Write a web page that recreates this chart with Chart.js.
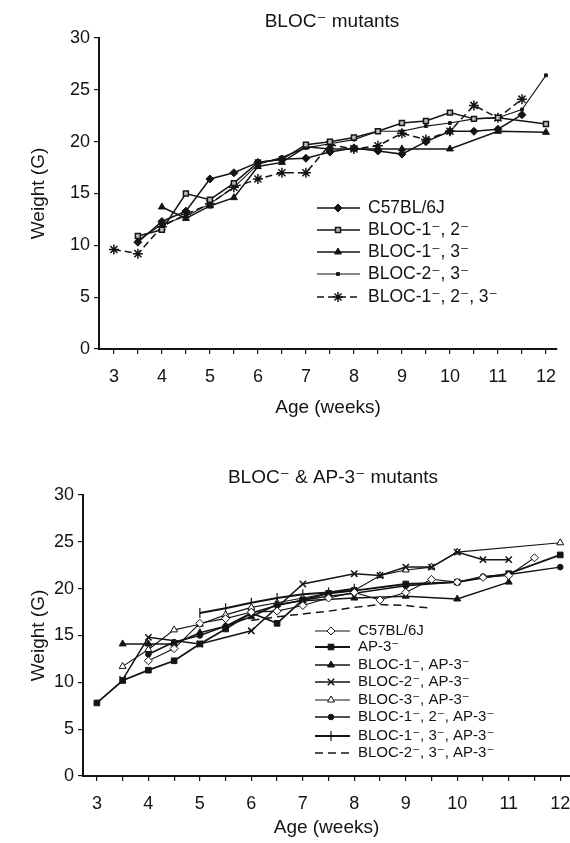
<!DOCTYPE html>
<html><head><meta charset="utf-8">
<script src="https://cdn.jsdelivr.net/npm/chart.js@4.4.1/dist/chart.umd.min.js"></script>
<style>
html,body{margin:0;padding:0;background:#fff;}
#wrap{position:relative;width:570px;height:843px;overflow:hidden;background:#fff;}
canvas{position:absolute;left:0;}
#c1{top:0}
#c2{top:420px}
</style></head><body>
<div id="wrap"><canvas id="c1" width="570" height="420"></canvas><canvas id="c2" width="570" height="423"></canvas></div>
<script>
// ---------- text ----------
const topTitle = 'BLOC\u207B mutants';
const botTitle = 'BLOC\u207B & AP-3\u207B mutants';
const yTitle = 'Weight (G)';
const xTitle = 'Age (weeks)';
const xTickValues = [3,3.5,4,4.5,5,5.5,6,6.5,7,7.5,8,8.5,9,9.5,10,10.5,11,11.5,12];
const yTickValues = [0,5,10,15,20,25,30];

// ---------- top panel (BLOC- mutants) ----------
const topLabels = ['C57BL/6J','BLOC-1\u207B, 2\u207B','BLOC-1\u207B, 3\u207B','BLOC-2\u207B, 3\u207B','BLOC-1\u207B, 2\u207B, 3\u207B'];
const tC57Weeks = [3.5,4,4.5,5,5.5,6,6.5,7,7.5,8,8.5,9,9.5,10,10.5,11,11.5];
const tC57Vals  = [10.3,12.3,13.3,16.4,17.0,18.0,18.3,18.4,19.0,19.4,19.1,18.8,20.0,21.0,21.0,21.2,22.6];
const tB12Weeks = [3.5,4,4.5,5,5.5,6,6.5,7,7.5,8,8.5,9,9.5,10,10.5,11,12];
const tB12Vals  = [10.9,11.5,15.0,14.4,16.0,18.0,18.3,19.7,20.0,20.4,21.0,21.8,22.0,22.8,22.2,22.3,21.7];
const tB13Weeks = [4,4.5,5,5.5,6,6.5,7,7.5,8,8.5,9,10,11,12];
const tB13Vals  = [13.7,12.6,13.8,14.6,17.6,18.0,19.5,19.3,19.3,19.3,19.3,19.3,21.0,20.9];
const tB23Weeks = [3.5,4,4.5,5,5.5,6,6.5,7,7.5,8,8.5,9,9.5,10,10.5,11,11.5,12];
const tB23Vals  = [10.5,12.0,12.8,14.0,15.6,17.8,18.5,19.4,19.8,20.2,21.0,21.0,21.5,21.8,22.2,22.3,23.1,26.4];
const tB123Weeks = [3,3.5,4,4.5,5,5.5,6,6.5,7,7.5,8,8.5,9,9.5,10,10.5,11,11.5];
const tB123Vals  = [9.6,9.2,11.8,13.0,14.0,15.6,16.4,17.0,17.0,19.7,19.3,19.6,20.8,20.2,21.0,23.5,22.3,24.1];

// ---------- bottom panel (BLOC- & AP-3- mutants) ----------
const botLabels = ['C57BL/6J','AP-3\u207B','BLOC-1\u207B, AP-3\u207B','BLOC-2\u207B, AP-3\u207B','BLOC-3\u207B, AP-3\u207B','BLOC-1\u207B, 2\u207B, AP-3\u207B','BLOC-1\u207B, 3\u207B, AP-3\u207B','BLOC-2\u207B, 3\u207B, AP-3\u207B'];
const bC57Weeks = [4,4.5,5,5.5,6,6.5,7,7.5,8,8.5,9,9.5,10,10.5,11,11.5];
const bC57Vals  = [12.3,13.6,16.3,16.8,17.5,17.6,18.2,19.0,19.6,18.8,19.6,21.0,20.7,21.2,21.4,23.3];
const bAP3Weeks = [3,3.5,4,4.5,5,5.5,6,6.5,7,7.5,8,9,10,11,12];
const bAP3Vals  = [7.8,10.2,11.3,12.3,14.1,15.7,17.4,16.3,18.8,19.5,19.8,20.5,20.7,21.6,23.6];
const bB1Weeks = [3.5,4,4.5,5,5.5,6,6.5,7,8,9,10,11];
const bB1Vals  = [14.1,14.1,14.1,15.3,16.0,17.0,18.3,18.7,19.0,19.2,18.9,20.7];
const bB2Weeks = [3.5,4,5,6,7,8,8.5,9,9.5,10,10.5,11];
const bB2Vals  = [10.3,14.8,14.1,15.5,20.5,21.6,21.4,22.3,22.3,23.9,23.1,23.1];
const bB3Weeks = [3.5,4,4.5,5,5.5,6,6.5,7,7.5,8,8.5,9,9.5,10,12];
const bB3Vals  = [11.7,13.5,15.6,16.2,17.2,18.0,18.5,19.0,19.5,19.8,21.4,22.0,22.3,23.9,24.9];
const bB12Weeks = [4,4.5,5,5.5,6,6.5,7,7.5,8,9,10,10.5,11,12];
const bB12Vals  = [13.0,14.3,15.0,16.0,17.4,18.2,18.8,19.2,19.5,20.3,20.7,21.3,21.5,22.3];
const bB13Weeks = [5,5.5,6,6.5,7,7.5,8];
const bB13Vals  = [17.4,17.9,18.5,19.0,19.4,19.6,20.0];
const bB23Weeks = [6,6.5,7,7.5,8,8.5,9,9.5];
const bB23Vals  = [16.6,17.0,17.3,17.6,18.0,18.3,18.2,17.9];

// ---------- helpers ----------
const FONT = "'Liberation Sans', Arial, 'DejaVu Sans', sans-serif";
const INK = '#141414';
const pts = (w, v) => w.map((x, i) => ({x: x, y: v[i]}));

function ds(label, data, o) {
  return Object.assign({
    label: label, data: data, borderColor: INK, borderWidth: 1.5, borderDash: [],
    pointStyle: 'circle', pointRadius: 3, pointBorderColor: INK, pointBackgroundColor: INK,
    pointBorderWidth: 1, pointRotation: 0, tension: 0, fill: false, showLine: true
  }, o);
}

const textPlugin = {
  id: 'panelText',
  afterDraw(chart, args, opts) {
    const ctx = chart.ctx;
    ctx.save();
    ctx.fillStyle = INK;
    ctx.textAlign = 'center';
    ctx.textBaseline = 'middle';
    ctx.font = opts.font;
    ctx.fillText(opts.text, opts.x, opts.y);
    ctx.restore();
  }
};

const legendPlugin = {
  id: 'inlineLegend',
  afterDraw(chart, args, opts) {
    const ctx = chart.ctx;
    chart.data.datasets.forEach((d, i) => {
      const y = opts.rows[i];
      ctx.save();
      ctx.strokeStyle = d.borderColor;
      ctx.lineWidth = d.borderWidth;
      ctx.setLineDash(d.borderDash || []);
      ctx.beginPath(); ctx.moveTo(opts.x0, y); ctx.lineTo(opts.x1, y); ctx.stroke();
      ctx.setLineDash([]);
      if (d.pointRadius > 0) {
        ctx.fillStyle = d.pointBackgroundColor;
        ctx.strokeStyle = d.pointBorderColor;
        ctx.lineWidth = d.pointBorderWidth;
        Chart.helpers.drawPoint(ctx, {pointStyle: d.pointStyle, radius: d.pointRadius, rotation: d.pointRotation, borderWidth: d.pointBorderWidth}, opts.xm, y);
      }
      ctx.fillStyle = INK;
      ctx.font = opts.font;
      ctx.textAlign = 'left';
      ctx.textBaseline = 'middle';
      ctx.fillText(d.label, opts.tx, y);
      ctx.restore();
    });
  }
};

function makeChart(id, datasets, L) {
  return new Chart(document.getElementById(id), {
    type: 'line',
    data: {datasets: datasets},
    plugins: [textPlugin, legendPlugin],
    options: {
      responsive: false, animation: false, devicePixelRatio: 1,
      layout: {autoPadding: false, padding: {top: L.top, right: L.right, left: 0, bottom: 0}},
      plugins: {
        legend: {display: false}, tooltip: {enabled: false},
        panelText: {text: L.title, x: L.titleX, y: L.titleY, font: L.titleFont},
        inlineLegend: L.legend
      },
      scales: {
        x: {
          type: 'linear', min: L.xmin, max: L.xmax,
          afterBuildTicks: s => { s.ticks = xTickValues.map(v => ({value: v})); },
          afterFit: s => { s.height = L.xh; s.paddingLeft = 0; s.paddingRight = 0; },
          ticks: {autoSkip: false, maxRotation: 0, padding: L.xpad, color: INK,
                  font: {family: FONT, size: L.tickSize},
                  callback: v => Number.isInteger(v) ? String(v) : ''},
          grid: {display: true, drawOnChartArea: false, drawTicks: true, tickLength: 5, color: INK, lineWidth: 1.2},
          border: {display: true, color: INK, width: 2},
          title: {display: true, text: xTitle, color: INK, font: {family: FONT, size: L.axisSize},
                  padding: {top: 0, bottom: L.xtpad}}
        },
        y: {
          min: 0, max: 30,
          afterBuildTicks: s => { s.ticks = yTickValues.map(v => ({value: v})); },
          afterFit: s => { s.width = L.yw; s.paddingTop = 0; s.paddingBottom = 0; },
          ticks: {padding: 4, color: INK, font: {family: FONT, size: L.tickSize}},
          grid: {display: true, drawOnChartArea: false, drawTicks: true, tickLength: 5, color: INK, lineWidth: 1.2},
          border: {display: true, color: INK, width: 2},
          title: {display: true, text: yTitle, color: INK, font: {family: FONT, size: L.axisSize},
                  padding: {top: L.ytpad, bottom: 0}}
        }
      }
    }
  });
}

// ---------- top chart ----------
makeChart('c1', [
  ds(topLabels[0], pts(tC57Weeks, tC57Vals), {pointStyle: 'rectRot', pointRadius: 4}),
  ds(topLabels[1], pts(tB12Weeks, tB12Vals), {pointStyle: 'rect', pointRadius: 3.5, pointBackgroundColor: '#bbb', pointBorderWidth: 1.5}),
  ds(topLabels[2], pts(tB13Weeks, tB13Vals), {pointStyle: 'triangle', pointRadius: 4}),
  ds(topLabels[3], pts(tB23Weeks, tB23Vals), {pointStyle: 'rect', pointRadius: 2, borderWidth: 1.1}),
  ds(topLabels[4], pts(tB123Weeks, tB123Vals), {pointStyle: 'star', pointRadius: 5, pointBorderWidth: 1.5, borderDash: [7, 4]})
], {
  top: 38, right: 13, xmin: 2.69, xmax: 12.23, xh: 71, yw: 99, xpad: 12, xtpad: 1, ytpad: 27,
  tickSize: 18, axisSize: 19,
  title: topTitle, titleX: 332, titleY: 22, titleFont: "19px " + FONT,
  legend: {rows: [208, 230, 252, 274, 297], x0: 317, x1: 360, xm: 338, tx: 368, font: "17.5px " + FONT}
});

// ---------- bottom chart ----------
makeChart('c2', [
  ds(botLabels[0], pts(bC57Weeks, bC57Vals), {pointStyle: 'rectRot', pointRadius: 4, pointBackgroundColor: '#fff', borderWidth: 1.1}),
  ds(botLabels[1], pts(bAP3Weeks, bAP3Vals), {pointStyle: 'rect', pointRadius: 4, borderWidth: 1.8}),
  ds(botLabels[2], pts(bB1Weeks, bB1Vals), {pointStyle: 'triangle', pointRadius: 4}),
  ds(botLabels[3], pts(bB2Weeks, bB2Vals), {pointStyle: 'crossRot', pointRadius: 4.5, pointBorderWidth: 1.5}),
  ds(botLabels[4], pts(bB3Weeks, bB3Vals), {pointStyle: 'triangle', pointRadius: 4, pointBackgroundColor: '#fff', borderWidth: 1.1}),
  ds(botLabels[5], pts(bB12Weeks, bB12Vals), {pointStyle: 'circle', pointRadius: 2.8}),
  ds(botLabels[6], pts(bB13Weeks, bB13Vals), {pointStyle: 'line', pointRotation: 90, pointRadius: 5, pointBorderWidth: 1.2, borderWidth: 2}),
  ds(botLabels[7], pts(bB23Weeks, bB23Vals), {pointRadius: 0, borderWidth: 1.5, borderDash: [8, 5]})
], {
  top: 75, right: 0, xmin: 2.73, xmax: 12.19, xh: 67, yw: 83, xpad: 12, xtpad: 4, ytpad: 27,
  tickSize: 18, axisSize: 19,
  title: botTitle, titleX: 333, titleY: 58, titleFont: "19px " + FONT,
  legend: {rows: [211, 227, 245, 262, 280, 297, 316, 333], x0: 315, x1: 350, xm: 331, tx: 358, font: "15px " + FONT}
});
</script>
</body></html>
